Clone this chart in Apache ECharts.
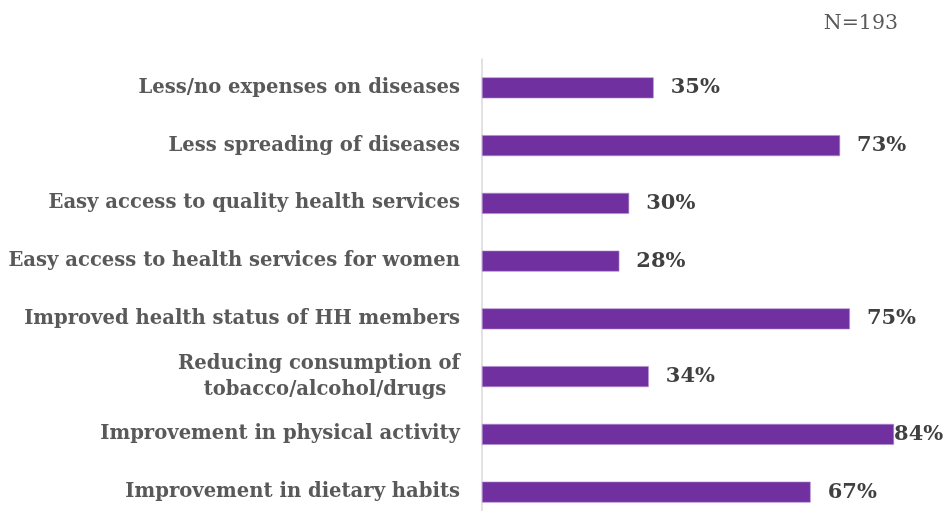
<!DOCTYPE html>
<html>
<head>
<meta charset="utf-8">
<script src="https://cdn.jsdelivr.net/npm/echarts@6/dist/echarts.min.js"></script>
<style>
  html, body { margin: 0; padding: 0; background: #ffffff; }
  #chart { width: 948px; height: 511px; }
</style>
</head>
<body>
<div id="chart"></div>
<script>
// Reported health benefits, share of respondents (%)
const categories = [
  'Less/no expenses on diseases',
  'Less spreading of diseases',
  'Easy access to quality health services',
  'Easy access to health services for women',
  'Improved health status of HH members',
  'Reducing consumption of\ntobacco/alcohol/drugs  ',
  'Improvement in physical activity',
  'Improvement in dietary habits'
];
const shares = [35, 73, 30, 28, 75, 34, 84, 67];
const sampleNote = 'N=193';

const FONT = '"DejaVu Serif", "Liberation Serif", serif';

const chart = echarts.init(document.getElementById('chart'), null, { renderer: 'canvas' });

const seriesData = shares.map(function (v) {
  // the longest bar sits against the right edge, so its label hugs the bar end
  const item = { value: v };
  if (v === Math.max.apply(null, shares)) {
    item.label = { distance: 0 };
  }
  return item;
});

chart.setOption({
  animation: false,
  backgroundColor: '#ffffff',
  grid: {
    left: 482, right: 0, top: 59, height: 462,
    containLabel: false,
    outerBoundsMode: 'none'
  },
  xAxis: {
    type: 'value',
    min: 0,
    max: 95,
    show: false
  },
  yAxis: {
    type: 'category',
    data: categories,
    inverse: true,
    axisLine: { show: true, lineStyle: { color: '#d9d9d9', width: 1.5 } },
    axisTick: { show: false },
    splitLine: { show: false },
    axisLabel: {
      margin: 22,
      fontFamily: FONT,
      fontWeight: 'bold',
      fontSize: 19.6,
      color: '#595959',
      lineHeight: 26,
      align: 'right'
    }
  },
  series: [{
    type: 'bar',
    data: seriesData,
    barWidth: 21,
    itemStyle: { color: '#7030a0', borderColor: '#b48fd0', borderWidth: 0.6 },
    label: {
      show: true,
      position: 'right',
      distance: 17,
      formatter: '{c}%',
      fontFamily: FONT,
      fontWeight: 'bold',
      fontSize: 21,
      color: '#404040'
    }
  }],
  graphic: [{
    type: 'text',
    right: 50,
    top: 13,
    style: {
      text: sampleNote,
      fontFamily: FONT,
      fontSize: 20.5,
      fill: '#595959'
    }
  }]
});
</script>
</body>
</html>
